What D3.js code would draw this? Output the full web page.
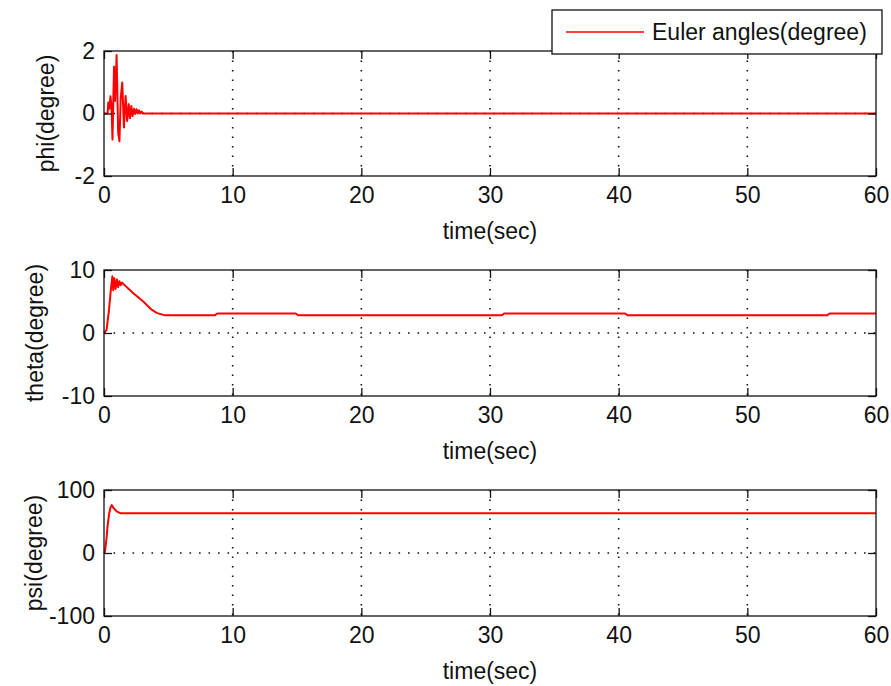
<!DOCTYPE html>
<html>
<head>
<meta charset="utf-8">
<script src="https://cdn.jsdelivr.net/npm/d3@7/dist/d3.min.js"></script>
<style>
  html, body { margin: 0; padding: 0; background: #fff; }
  svg { display: block; }
  text { font-family: "Liberation Sans", Arial, sans-serif; fill: #111; }
</style>
</head>
<body>
<svg id="chart" width="891" height="686"></svg>
<script>
// ---- data ----
const xTicks = [0, 10, 20, 30, 40, 50, 60];
const xLabel = "time(sec)";
const legendLabel = "Euler angles(degree)";

const phiT = [0, 0.28, 0.33, 0.42, 0.5, 0.58, 0.66, 0.78, 0.86, 0.98, 1.1, 1.2, 1.3, 1.42, 1.55, 1.68, 1.8, 1.92, 2.02, 2.12, 2.22, 2.32, 2.42, 2.52, 2.62, 2.72, 2.82, 2.92, 3.05, 60];
const phiV = [0, 0, 0.35, 0.15, 0.55, 0.25, -0.83, 1.5, 0.4, 1.87, -0.6, -0.89, 0.5, 0.99, -0.45, 0.56, -0.24, 0.3, -0.15, 0.24, -0.08, 0.15, -0.02, 0.14, 0, 0.1, 0, 0.06, 0, 0];
const phiTicks = [-2, 0, 2];

const thetaT = [0, 0.2, 0.39, 0.52, 0.65, 0.72, 0.8, 0.9, 1.0, 1.1, 1.2, 1.3, 1.4, 1.5, 2.28, 3.05, 3.7, 4.09, 4.74, 8.6, 8.8, 14.9, 15.1, 30.9, 31.1, 40.5, 40.7, 56.2, 56.4, 60];
const thetaV = [0, 0.5, 3.7, 6.6, 9.0, 6.8, 8.7, 7.0, 8.5, 7.3, 8.2, 7.6, 8.0, 7.8, 6.3, 5.0, 3.7, 3.2, 2.8, 2.8, 3.1, 3.1, 2.8, 2.8, 3.1, 3.1, 2.8, 2.8, 3.1, 3.1];
const thetaTicks = [-10, 0, 10];

const psiT = [0, 0.08, 0.2, 0.28, 0.39, 0.5, 0.6, 0.72, 0.85, 0.98, 1.3, 60];
const psiV = [0, 3, 24, 43, 61, 72, 76, 72, 69, 66, 63, 63];
const psiTicks = [-100, 0, 100];

const panels = [
  { t: phiT, v: phiV, ticks: phiTicks, label: "phi(degree)", top: 51, bottom: 176, labelX: 54 },
  { t: thetaT, v: thetaV, ticks: thetaTicks, label: "theta(degree)", top: 270, bottom: 396, labelX: 43 },
  { t: psiT, v: psiV, ticks: psiTicks, label: "psi(degree)", top: 490, bottom: 616, labelX: 42 }
];

// ---- layout ----
const left = 104, right = 876;
const svg = d3.select("#chart");
const x = d3.scaleLinear().domain([0, 60]).range([left, right]);
const fmt = d => String(d);

panels.forEach(p => {
  const y = d3.scaleLinear().domain([p.ticks[0], p.ticks[2]]).range([p.bottom, p.top]);
  const g = svg.append("g");
  const h = p.bottom - p.top;

  // grid (dotted)
  g.selectAll(".vgrid").data(xTicks.slice(1, -1)).enter().append("line")
    .attr("x1", d => x(d)).attr("x2", d => x(d))
    .attr("y1", p.top).attr("y2", p.bottom)
    .attr("stroke", "#111").attr("stroke-width", 1.6)
    .attr("stroke-dasharray", "1.6,7.9");
  g.selectAll(".hgrid").data(p.ticks.slice(1, -1)).enter().append("line")
    .attr("x1", left).attr("x2", right)
    .attr("y1", d => y(d)).attr("y2", d => y(d))
    .attr("stroke", "#111").attr("stroke-width", 1.6)
    .attr("stroke-dasharray", "1.6,7.9");

  // data line
  const pts = p.t.map((t, i) => [t, p.v[i]]);
  g.append("path").datum(pts)
    .attr("fill", "none").attr("stroke", "#ff0000").attr("stroke-width", 2)
    .attr("stroke-linejoin", "round")
    .attr("d", d3.line().x(d => x(d[0])).y(d => y(d[1])));

  // axes
  const fs = "23px";
  const ax = g.append("g").attr("transform", `translate(0,${p.bottom})`)
    .call(d3.axisBottom(x).tickValues(xTicks).tickSizeInner(-8).tickSizeOuter(0).tickPadding(11).tickFormat(fmt));
  const axTop = g.append("g").attr("transform", `translate(0,${p.top})`)
    .call(d3.axisTop(x).tickValues(xTicks).tickSizeInner(-8).tickSizeOuter(0).tickFormat(""));
  const ay = g.append("g").attr("transform", `translate(${left},0)`)
    .call(d3.axisLeft(y).tickValues(p.ticks).tickSizeInner(-8).tickSizeOuter(0).tickPadding(9).tickFormat(fmt));
  const ayR = g.append("g").attr("transform", `translate(${right},0)`)
    .call(d3.axisRight(y).tickValues(p.ticks).tickSizeInner(-8).tickSizeOuter(0).tickFormat(""));
  [ax, axTop, ay, ayR].forEach(a => {
    a.select(".domain").remove();
    a.selectAll("line").attr("stroke", "#111").attr("stroke-width", 1.3);
    a.selectAll("text").style("font-size", fs).style("font-family", "Liberation Sans, Arial, sans-serif").attr("fill", "#111");
  });

  // box
  g.append("rect").attr("x", left).attr("y", p.top).attr("width", right - left).attr("height", h)
    .attr("fill", "none").attr("stroke", "#111").attr("stroke-width", 1.3);

  // labels
  g.append("text").attr("x", (left + right) / 2).attr("y", p.bottom + 63)
    .attr("text-anchor", "middle").style("font-size", "23px").text(xLabel);
  g.append("text")
    .attr("transform", `translate(${p.labelX},${(p.top + p.bottom) / 2}) rotate(-90)`)
    .attr("text-anchor", "middle").style("font-size", "23px").text(p.label);
});

// legend
const lg = svg.append("g");
lg.append("rect").attr("x", 552).attr("y", 10).attr("width", 330).attr("height", 44)
  .attr("fill", "#fff").attr("stroke", "#111").attr("stroke-width", 1.3);
lg.append("line").attr("x1", 566).attr("x2", 644).attr("y1", 32).attr("y2", 32)
  .attr("stroke", "#ff0000").attr("stroke-width", 1.5);
lg.append("text").attr("x", 652).attr("y", 40).style("font-size", "23px").text(legendLabel);
</script>
</body>
</html>
